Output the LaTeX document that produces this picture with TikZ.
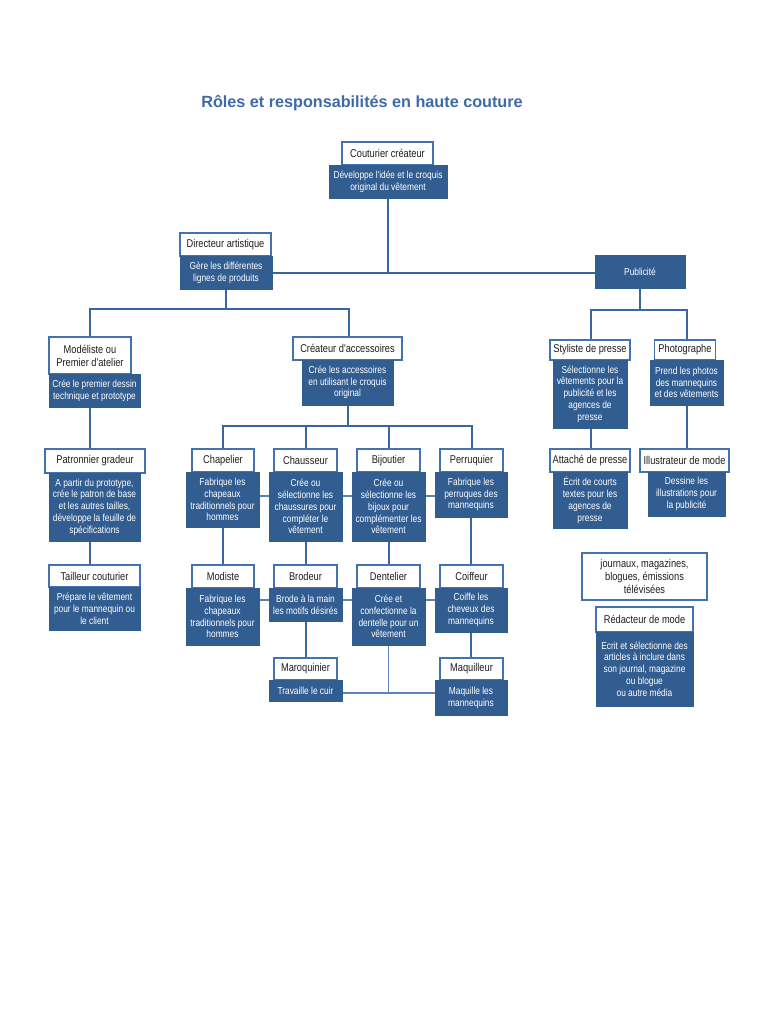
\documentclass[tikz,border=0pt]{standalone}
\usepackage{fontspec}
\setmainfont{Liberation Sans}
\newfontfamily\narrowf{Liberation Sans}[FakeStretch=0.82]
\usetikzlibrary{backgrounds}
\definecolor{dblue}{RGB}{50,93,145}
\definecolor{bdr}{RGB}{68,114,174}
\definecolor{lne}{RGB}{58,102,160}
\definecolor{lne2}{RGB}{90,130,180}
\definecolor{ttlc}{RGB}{62,106,165}
\definecolor{txt}{RGB}{30,30,30}
\begin{document}
\begin{tikzpicture}[x=1pt,y=-1pt,
 ttl/.style={draw=bdr, fill=white, line width=1.1pt, inner sep=1pt, align=center, text=txt, font=\narrowf\fontsize{11.3}{13}\selectfont},
 dsc/.style={draw=dblue, fill=dblue, line width=0.8pt, inner sep=1pt, align=center, text=white, font=\narrowf\fontsize{10.2}{11.8}\selectfont},
 conn/.style={draw=lne, line width=2pt, line join=miter},
 conn2/.style={draw=lne2, line width=1.2pt},
]
\useasboundingbox (0,0) rectangle (768,1024);

\node[font=\bfseries\fontsize{16.2}{19}\selectfont, text=ttlc] (title) at (362,103) {Rôles et responsabilités en haute couture};

% Couturier
\node[ttl, minimum width=91pt, minimum height=23pt] (coutT) at (387.5,153.5) {Couturier créateur};
\node[dsc, minimum width=118pt, minimum height=33pt] (coutD) at (388,181.5) {Développe l'idée et le croquis\\original du vêtement};
% Directeur
\node[ttl, minimum width=91pt, minimum height=23pt] (dirT) at (225.5,244.5) {Directeur artistique};
\node[dsc, minimum width=92pt, minimum height=33pt] (dirD) at (226,272.5) {Gère les différentes\\lignes de produits};
% Publicite
\node[dsc, minimum width=90pt, minimum height=33pt] (pub) at (640,271.5) {Publicité};

% Left column
\node[ttl, minimum width=82pt, minimum height=37pt] (modT) at (90,355.5) {Modéliste ou\\Premier d'atelier};
\node[dsc, minimum width=91pt, minimum height=33pt] (modD) at (94.5,390.5) {Crée le premier dessin\\technique et prototype};
\node[ttl, minimum width=100pt, minimum height=24pt] (patT) at (95,461) {Patronnier gradeur};
\node[dsc, minimum width=91pt, minimum height=68pt] (patD) at (94.5,507) {A partir du prototype,\\crée le patron de base\\et les autres tailles,\\développe la feuille de\\spécifications};
\node[ttl, minimum width=91pt, minimum height=22pt] (taiT) at (94.5,576) {Tailleur couturier};
\node[dsc, minimum width=91pt, minimum height=43pt] (taiD) at (94.5,608.5) {Prépare le vêtement\\pour le mannequin ou\\le client};

% Createur d'accessoires
\node[ttl, minimum width=109pt, minimum height=23pt] (creT) at (347.5,348.5) {Créateur d'accessoires};
\node[dsc, minimum width=91pt, minimum height=45pt] (creD) at (347.5,382.5) {Crée les accessoires\\en utilisant le croquis\\original};

% Row 1
\node[ttl, minimum width=62pt, minimum height=23pt] (chapT) at (223,460.5) {Chapelier};
\node[dsc, minimum width=73pt, minimum height=55pt] (chapD) at (222.5,499.5) {Fabrique les\\chapeaux\\traditionnels pour\\hommes};
\node[ttl, minimum width=63pt, minimum height=23pt] (chauT) at (305.5,460.5) {Chausseur};
\node[dsc, minimum width=73pt, minimum height=69pt] (chauD) at (305.5,506.5) {Crée ou\\sélectionne les\\chaussures pour\\compléter le\\vêtement};
\node[ttl, minimum width=63pt, minimum height=23pt] (bijT) at (388.5,460.5) {Bijoutier};
\node[dsc, minimum width=73pt, minimum height=69pt] (bijD) at (388.5,506.5) {Crée ou\\sélectionne les\\bijoux pour\\complémenter les\\vêtement};
\node[ttl, minimum width=63pt, minimum height=23pt] (perT) at (471.5,460.5) {Perruquier};
\node[dsc, minimum width=72pt, minimum height=45pt] (perD) at (471,494.5) {Fabrique les\\perruques des\\mannequins};

% Row 2
\node[ttl, minimum width=62pt, minimum height=23pt] (modiT) at (223,576.5) {Modiste};
\node[dsc, minimum width=73pt, minimum height=57pt] (modiD) at (222.5,616.5) {Fabrique les\\chapeaux\\traditionnels pour\\hommes};
\node[ttl, minimum width=63pt, minimum height=23pt] (brodT) at (305.5,576.5) {Brodeur};
\node[dsc, minimum width=73pt, minimum height=33pt] (brodD) at (305.5,604.5) {Brode à la main\\les motifs désirés};
\node[ttl, minimum width=63pt, minimum height=23pt] (denT) at (388.5,576.5) {Dentelier};
\node[dsc, minimum width=73pt, minimum height=57pt] (denD) at (388.5,616.5) {Crée et\\confectionne la\\dentelle pour un\\vêtement};
\node[ttl, minimum width=63pt, minimum height=23pt] (coifT) at (471.5,576.5) {Coiffeur};
\node[dsc, minimum width=72pt, minimum height=44pt] (coifD) at (471,610) {Coiffe les\\cheveux des\\mannequins};

% Row 3
\node[ttl, minimum width=63pt, minimum height=22pt] (marT) at (305.5,669) {Maroquinier};
\node[dsc, minimum width=73pt, minimum height=21pt] (marD) at (305.5,690.5) {Travaille le cuir};
\node[ttl, minimum width=63pt, minimum height=22pt] (maqT) at (471.5,669) {Maquilleur};
\node[dsc, minimum width=72pt, minimum height=35pt] (maqD) at (471,697.5) {Maquille les\\mannequins};

% Right side
\node[ttl, minimum width=61pt, minimum height=20pt] (phoT) at (685,350) {Photographe};
\node[ttl, minimum width=80pt, minimum height=20pt] (styT) at (590,350) {Styliste de presse};
\node[dsc, minimum width=74pt, minimum height=68pt] (styD) at (590,394) {Sélectionne les\\vêtements pour la\\publicité et les\\agences de\\presse};
\node[dsc, minimum width=73pt, minimum height=45pt] (phoD) at (686.5,382.5) {Prend les photos\\des mannequins\\et des vêtements};
\node[ttl, minimum width=80pt, minimum height=23pt] (attT) at (590,460.5) {Attaché de presse};
\node[dsc, minimum width=74pt, minimum height=56pt] (attD) at (590,500) {Écrit de courts\\textes pour les\\agences de\\presse};
\node[ttl, minimum width=89pt, minimum height=23pt] (illT) at (684.5,460.5) {Illustrateur de mode};
\node[dsc, minimum width=77pt, minimum height=44pt] (illD) at (686.5,494) {Dessine les\\illustrations pour\\la publicité};
\node[ttl, minimum width=125pt, minimum height=47pt] (jour) at (644.5,576.5) {journaux, magazines,\\blogues, émissions\\télévisées};
\node[ttl, minimum width=97pt, minimum height=25pt] (redT) at (644.5,619.5) {Rédacteur de mode};
\node[dsc, minimum width=97pt, minimum height=74pt] (redD) at (644.5,669) {Ecrit et sélectionne des\\articles à inclure dans\\son journal, magazine\\ou blogue\\ou autre média};

\begin{pgfonlayer}{background}
\fill[white] (0,0) rectangle (768,1024);
\coordinate (h1) at (0,273);
\coordinate (h2) at (0,309);
\coordinate (h3) at (0,426);
\coordinate (h4) at (0,310);
\coordinate (r1) at (0,496);
\coordinate (r2) at (0,600);
\coordinate (r3) at (0,693);
\draw[conn] (dirD.east |- h1) -- (pub.west |- h1);
\draw[conn] (coutD.south) -- (coutD.south |- h1);
\draw[conn] (dirD.south) -- (dirD.south |- h2);
\draw[conn] (modT.north) -- (modT.north |- h2) -- ([xshift=1.5pt]creT.north |- h2) -- ([xshift=1.5pt]creT.north);
\draw[conn] (modD.south -| modT) -- (patT.north -| modT);
\draw[conn] (patD.south -| modT) -- (taiT.north -| modT);
\draw[conn] (creD.south) -- (creD.south |- h3);
\draw[conn] (chapT.north) -- (chapT.north |- h3) -- (perT.north |- h3) -- (perT.north);
\draw[conn] (chauT.north) -- (chauT.north |- h3);
\draw[conn] (bijT.north) -- (bijT.north |- h3);
\draw[conn2] (chapD.east |- r1) -- (perD.west |- r1);
\draw[conn2] (modiD.east |- r2) -- (coifD.west |- r2);
\draw[conn2] (marD.east |- r3) -- (maqD.west |- r3);
\draw[conn2] (denD.south) -- (denD.south |- r3);
\draw[conn] (chapD.south) -- (chapD.south |- modiT.north);
\draw[conn] (chauD.south) -- (chauD.south |- brodT.north);
\draw[conn] (brodD.south) -- (brodD.south |- marT.north);
\draw[conn] (bijD.south) -- (bijD.south |- denT.north);
\draw[conn] (perD.south) -- (perD.south |- coifT.north);
\draw[conn] (coifD.south) -- (coifD.south |- maqT.north);
\draw[conn] (pub.south) -- (pub.south |- h4);
\draw[conn] ([xshift=1pt]styT.north) -- ([xshift=1pt]styT.north |- h4) -- ([xshift=2pt]phoT.north |- h4) -- ([xshift=2pt]phoT.north);
\draw[conn] ([xshift=1pt]styD.south) -- ([xshift=1pt]attT.north);
\draw[conn] (phoD.south) -- (phoD.south |- illT.north);
\end{pgfonlayer}
\end{tikzpicture}
\end{document}
